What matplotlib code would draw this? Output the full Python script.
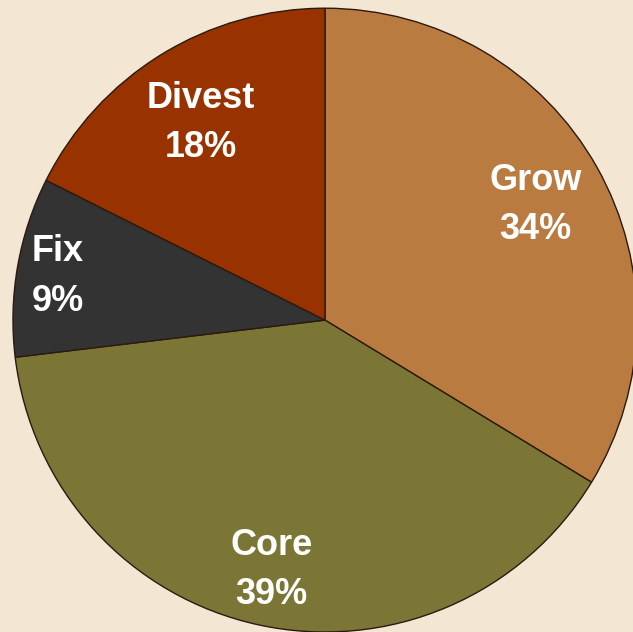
import matplotlib.pyplot as plt
import numpy as np

labels = ['Grow', 'Core', 'Fix', 'Divest']
shares = [33.7, 39.4, 9.3, 17.6]
colors = ['#BA7B40', '#7B7636', '#333333', '#983300']
# distance of each label from the centre, as a fraction of the radius
label_dist = [0.775, 0.81, 0.87, 0.755]

bg = '#F3E6D3'

fig = plt.figure(figsize=(6.33, 6.32), dpi=100, facecolor=bg)
ax = fig.add_axes([0.0205, 0.0, 0.9858, 0.987])
ax.set_facecolor(bg)

wedges, _ = ax.pie(shares, colors=colors, startangle=90, counterclock=False,
                   radius=1.0, wedgeprops=dict(edgecolor='#2a1a10', linewidth=1.0))
for w in wedges:
    w.set_clip_on(False)

for w, lab, s, d in zip(wedges, labels, shares, label_dist):
    mid = np.deg2rad((w.theta1 + w.theta2) / 2)
    ax.text(d * np.cos(mid), d * np.sin(mid) - 0.01, f'{lab}\n{s:.0f}%',
            ha='center', va='center', color='white', fontsize=26,
            fontweight='bold', family='Liberation Sans', linespacing=1.53)

ax.set_xlim(-1, 1)
ax.set_ylim(-1, 1)
ax.set_aspect('auto')
ax.axis('off')

fig.savefig('out.png', dpi=100, facecolor=bg)
